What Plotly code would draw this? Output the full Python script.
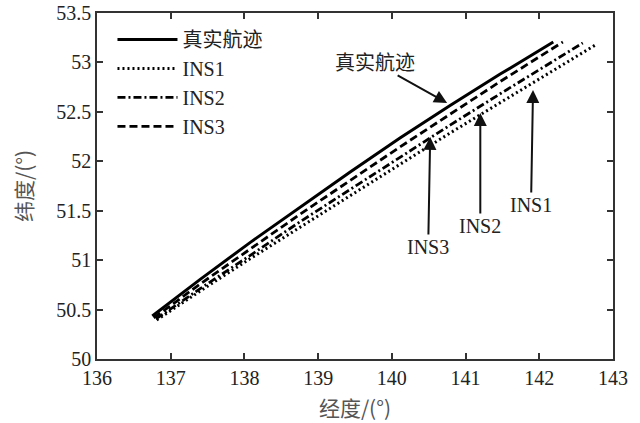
import plotly.graph_objects as go

# ---- data ----
true_lon = [136.75, 137.40, 138.08, 138.75, 139.43, 140.11, 140.79, 141.47, 142.19]
true_lat = [50.435, 50.805, 51.18, 51.535, 51.89, 52.235, 52.565, 52.882, 53.207]

ins1_lon = [136.81, 137.40, 138.08, 138.75, 139.43, 140.11, 140.79, 141.47, 142.15, 142.76]
ins1_lat = [50.395, 50.688, 51.016, 51.333, 51.651, 51.969, 52.286, 52.594, 52.901, 53.176]

ins2_lon = [136.80, 137.40, 138.08, 138.75, 139.43, 140.11, 140.79, 141.47, 142.15, 142.59]
ins2_lat = [50.405, 50.712, 51.049, 51.386, 51.713, 52.039, 52.366, 52.683, 52.999, 53.197]

ins3_lon = [136.77, 137.40, 138.08, 138.75, 139.43, 140.11, 140.79, 141.47, 142.32]
ins3_lat = [50.415, 50.759, 51.113, 51.462, 51.804, 52.145, 52.476, 52.807, 53.207]

series_names = ["真实航迹", "INS1", "INS2", "INS3"]

x_ticks = [136, 137, 138, 139, 140, 141, 142, 143]
y_ticks = [50, 50.5, 51, 51.5, 52, 52.5, 53, 53.5]

# arrow annotation targets (lon, lat) and labels
arrow_labels = ["真实航迹", "INS3", "INS2", "INS1"]
arrow_lon = [140.75, 140.52, 141.20, 141.915]
arrow_lat = [52.59, 52.246, 52.488, 52.721]

serif = "Liberation Serif, Noto Sans CJK SC, serif"

fig = go.Figure()
styles = [("solid", 3), ("2px,3px", 3), ("8px,3px,2px,3px", 2.8), ("8px,4px", 2.8)]
data = [(true_lon, true_lat), (ins1_lon, ins1_lat), (ins2_lon, ins2_lat), (ins3_lon, ins3_lat)]
for i, ((lx, ly), name, (dash, w)) in enumerate(zip(data, series_names, styles)):
    fig.add_trace(go.Scatter(
        x=lx, y=ly, mode="lines", name=name, legendgroup=str(i),
        line=dict(color="black", width=w, dash=dash),
    ))

# arrows
offsets = [(-72, -40), (-2, 110), (0, 113), (-2, 115)]
for lab, ax_lon, ax_lat, (dx, dy) in zip(arrow_labels, arrow_lon, arrow_lat, offsets):
    fig.add_annotation(
        x=ax_lon, y=ax_lat, xref="x", yref="y", text=lab,
        showarrow=True, ax=dx, ay=dy, arrowhead=2, arrowsize=1.3,
        arrowwidth=2, arrowcolor="#111", standoff=0,
        font=dict(family=serif, size=20, color="#222"),
    )

axis_common = dict(
    showline=True, linecolor="#333", linewidth=1.5, mirror="allticks",
    ticks="inside", ticklen=6, tickwidth=1.5, tickcolor="#333",
    showgrid=False, zeroline=False, automargin=False,
    tickfont=dict(family=serif, size=20, color="#222"),
)

title_font = dict(family="Noto Sans CJK SC", size=21, color="#555")

fig.update_layout(
    width=640, height=423,
    margin=dict(l=97, r=27, t=13, b=64),
    paper_bgcolor="white", plot_bgcolor="white",
    xaxis=dict(range=[136, 143], tickvals=x_ticks, ticktext=[str(v) for v in x_ticks],
               title=dict(text="经度/(°)", font=title_font, standoff=14),
               **axis_common),
    yaxis=dict(range=[50, 53.5], tickvals=y_ticks, ticktext=[f"{v:g}" for v in y_ticks],
               title=dict(text="纬度/(°)", font=title_font, standoff=18),
               **axis_common),
    legend=dict(x=0.03, y=0.98, xanchor="left", yanchor="top", bgcolor="rgba(0,0,0,0)",
                font=dict(family=serif, size=20, color="#222"), itemwidth=60,
                traceorder="grouped", tracegroupgap=0),
    showlegend=True,
)

fig.write_html("out.html")
